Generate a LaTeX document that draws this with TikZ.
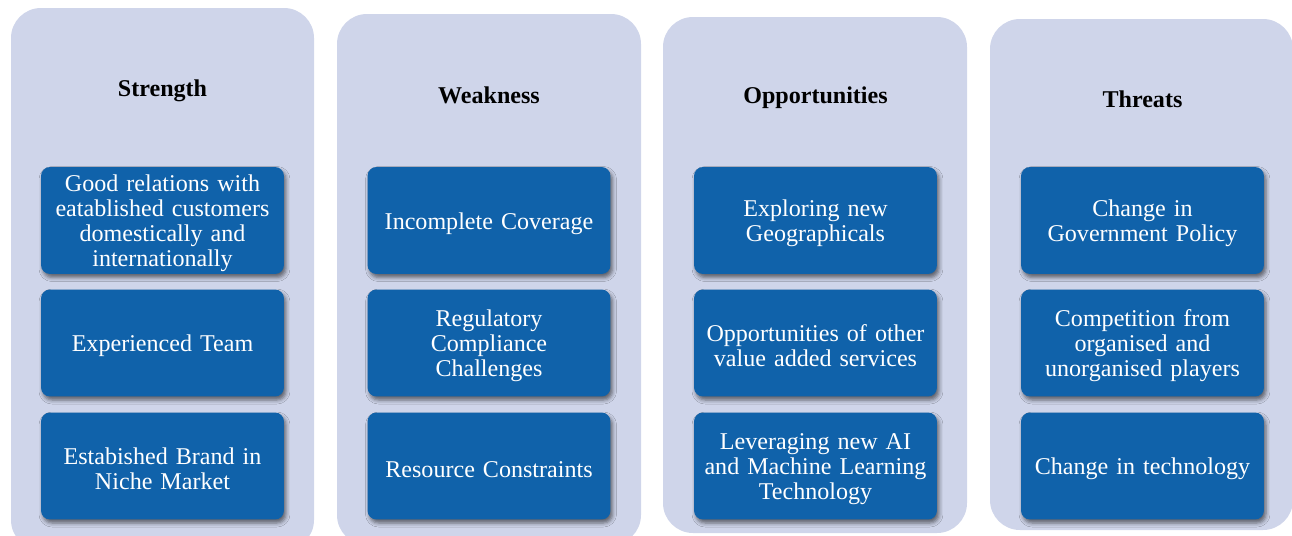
\documentclass[tikz,border=0pt]{standalone}
\usepackage{fontspec}
\setmainfont{Liberation Serif}
\usetikzlibrary{shadows.blur}

\definecolor{swotbg}{HTML}{CFD5EA}
\definecolor{swotblue}{HTML}{1062AA}

\tikzset{
  swotcol/.style={fill=swotbg, rounded corners=0.6cm},
  swothead/.style={font=\fontsize{13.7}{14.2}\selectfont\bfseries},
  swotbox/.style={fill=swotblue, text=white, rounded corners=0.18cm,
    minimum width=4.86cm, minimum height=2.14cm, text width=4.7cm,
    align=center, inner sep=1pt,
    font=\fontsize{13.7}{14.2}\selectfont,
    execute at begin node={\rule{0pt}{13pt}},
    blur shadow={shadow xshift=0.04cm, shadow yshift=-0.07cm,
      shadow blur radius=0.08cm, shadow opacity=55}}
}

\begin{document}
\begin{tikzpicture}[x=0.02cm, y=-0.02cm]
  \useasboundingbox (0,0) rectangle (1292,535);

  %% columns
  \fill[swotcol] (11,8) rectangle (314,550);
  \fill[swotcol] (337,14) rectangle (641,545);
  \fill[swotcol] (663,17) rectangle (967,533);
  \fill[swotcol] (990,19) rectangle (1293,530);

  %% Strength
  \node[swothead] (sHead) at (162.5,91) {Strength};
  \node[swotbox] (s1) at (162.5,220.5) {Good relations with\\eatablished customers\\domestically and\\internationally};
  \node[swotbox] (s2) at (162.5,343) {Experienced Team};
  \node[swotbox] (s3) at (162.5,466) {Estabished Brand in\\Niche Market};

  %% Weakness
  \node[swothead] (wHead) at (489,95) {Weakness};
  \node[swotbox] (w1) at (489,220.5) {Incomplete Coverage};
  \node[swotbox] (w2) at (489,343) {Regulatory\\Compliance\\Challenges};
  \node[swotbox] (w3) at (489,466) {Resource Constraints};

  %% Opportunities
  \node[swothead] (oHead) at (815.5,98) {Opportunities};
  \node[swotbox] (o1) at (815.5,220.5) {Exploring new\\Geographicals};
  \node[swotbox] (o2) at (815.5,343) {Opportunities of other\\value added services};
  \node[swotbox] (o3) at (815.5,466) {Leveraging new AI\\and Machine Learning\\Technology};

  %% Threats
  \node[swothead] (tHead) at (1142.5,99) {Threats};
  \node[swotbox] (t1) at (1142.5,220.5) {Change in\\Government Policy};
  \node[swotbox] (t2) at (1142.5,343) {Competition from\\organised and\\unorganised players};
  \node[swotbox] (t3) at (1142.5,466) {Change in technology};

\end{tikzpicture}
\end{document}
